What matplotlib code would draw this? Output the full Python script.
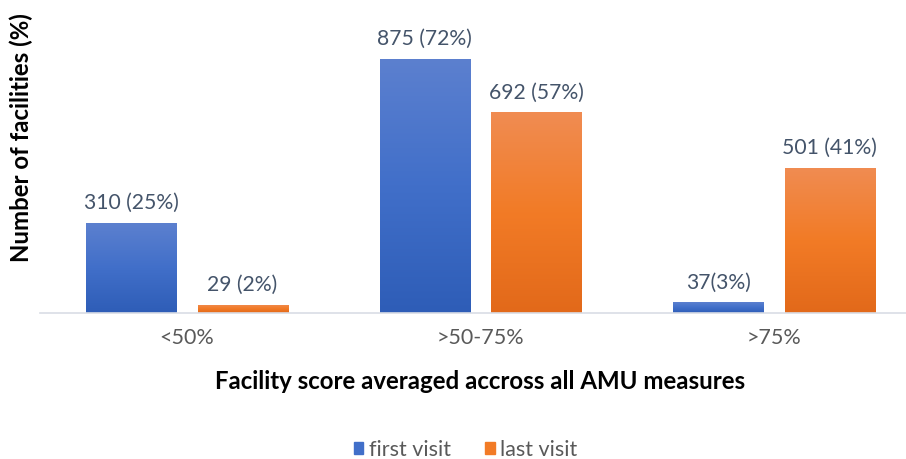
import numpy as np
import matplotlib.pyplot as plt
from matplotlib.colors import LinearSegmentedColormap
from matplotlib.patches import Patch

plt.rcParams['font.family'] = ['Lato', 'DejaVu Sans']

categories = ['<50%', '>50-75%', '>75%']
first_visit = [310, 875, 37]
last_visit = [29, 692, 501]
first_labels = ['310 (25%)', '875 (72%)', '37(3%)']
last_labels = ['29 (2%)', '692 (57%)', '501 (41%)']

blue_grad = ['#2E5DB7', '#416FC9', '#5C80CF']
orange_grad = ['#E2691A', '#F27B26', '#F08C52']

fig = plt.figure(figsize=(9.06, 4.59), dpi=100)
ax = fig.add_axes([0.0442, 0.318, 0.96, 0.6325])

x = np.arange(len(categories))
w = 0.307
off = 0.19

b1 = ax.bar(x - off, first_visit, w, color=blue_grad[1])
b2 = ax.bar(x + off, last_visit, w, color=orange_grad[1])


def gradient_fill(bars, colors):
    # 渐变填充：上浅下深
    cmap = LinearSegmentedColormap.from_list('g', colors)
    grad = np.linspace(0, 1, 256).reshape(-1, 1)
    for bar in bars:
        bx, by = bar.get_x(), bar.get_y()
        bw, bh = bar.get_width(), bar.get_height()
        im = ax.imshow(grad, cmap=cmap, aspect='auto', origin='lower',
                       extent=[bx, bx + bw, by, by + bh], zorder=bar.get_zorder())
        im.set_clip_path(bar)
        bar.set_alpha(0)


gradient_fill(b1, blue_grad)
gradient_fill(b2, orange_grad)

for bars, labels in ((b1, first_labels), (b2, last_labels)):
    for bar, lab in zip(bars, labels):
        ax.annotate(lab, (bar.get_x() + bar.get_width() / 2, bar.get_height()),
                    xytext=(0, 7), textcoords='offset points', ha='center', va='bottom',
                    fontsize=15.2, color='#44546A')

ax.set_xlim(-0.5, 2.463)
ax.set_ylim(0, 1000)
ax.set_xticks(x)
ax.set_xticklabels(categories, fontsize=15.5, color='#595959')
ax.tick_params(axis='x', length=0, pad=11)
ax.set_yticks([])
for s in ['top', 'right', 'left']:
    ax.spines[s].set_visible(False)
ax.spines['bottom'].set_color('#D9DDE5')
ax.spines['bottom'].set_linewidth(1.2)

fig.text(0.530, 0.168, 'Facility score averaged accross all AMU measures',
         ha='center', va='center', fontsize=17.3, fontweight='bold', color='black')
fig.text(0.024, 0.70, 'Number of facilities (%)', rotation=90,
         ha='center', va='center', fontsize=17.3, fontweight='bold', color='black')

handles = [Patch(color=blue_grad[1], label='first visit'),
           Patch(color=orange_grad[1], label='last visit')]
fig.legend(handles=handles, loc='center', bbox_to_anchor=(0.514, 0.02), ncol=2,
           frameon=False, fontsize=15.5, handlelength=0.45, handleheight=0.45,
           handletextpad=0.25, columnspacing=1.6, labelcolor='#595959')

plt.savefig('out.png')
